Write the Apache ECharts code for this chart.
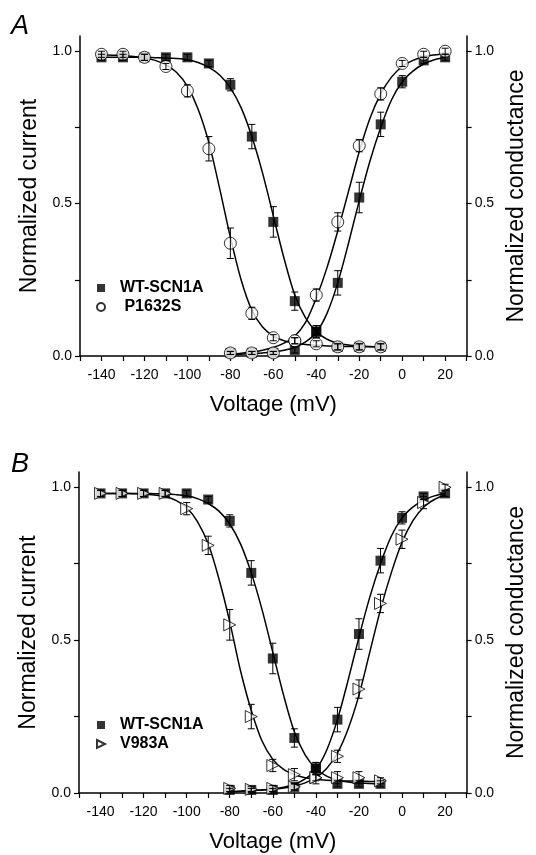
<!DOCTYPE html>
<html>
<head>
<meta charset="utf-8">
<script src="https://cdn.jsdelivr.net/npm/echarts@6/dist/echarts.min.js"></script>
<style>
  html, body { margin: 0; padding: 0; background: #fff; }
  #chart { width: 536px; height: 855px; }
</style>
</head>
<body>
<div id="chart"></div>
<script>
// voltages of the measured points
const voltInact = [-140, -130, -120, -110, -100, -90, -80, -70, -60, -50, -40, -30, -20, -10];
const voltAct = [-80, -70, -60, -50, -40, -30, -20, -10, 0, 10, 20];

// WT-SCN1A (same in both panels)
const wtInact = [0.98, 0.98, 0.98, 0.98, 0.98, 0.96, 0.89, 0.72, 0.44, 0.18, 0.08, 0.03, 0.03, 0.03];
const wtInactErr = [0.01, 0.01, 0.01, 0.01, 0.01, 0.01, 0.02, 0.04, 0.05, 0.03, 0.02, 0.01, 0.01, 0.01];
const wtAct = [0.01, 0.01, 0.01, 0.02, 0.08, 0.24, 0.52, 0.76, 0.9, 0.97, 0.98];
const wtActErr = [0.005, 0.005, 0.005, 0.01, 0.02, 0.04, 0.05, 0.04, 0.02, 0.01, 0.01];

// P1632S (panel A)
const p1632sInact = [0.99, 0.99, 0.98, 0.95, 0.87, 0.68, 0.37, 0.14, 0.06, 0.05, 0.04, 0.03, 0.03, 0.03];
const p1632sInactErr = [0.01, 0.01, 0.01, 0.01, 0.02, 0.04, 0.05, 0.02, 0.01, 0.01, 0.01, 0.01, 0.01, 0.01];
const p1632sAct = [0.01, 0.01, 0.01, 0.05, 0.2, 0.44, 0.69, 0.86, 0.96, 0.99, 1.0];
const p1632sActErr = [0.005, 0.005, 0.005, 0.01, 0.02, 0.03, 0.02, 0.02, 0.01, 0.01, 0.01];

// V983A (panel B)
const v983aInact = [0.98, 0.98, 0.98, 0.98, 0.93, 0.81, 0.55, 0.25, 0.09, 0.06, 0.05, 0.05, 0.05, 0.04];
const v983aInactErr = [0.01, 0.01, 0.01, 0.01, 0.02, 0.03, 0.05, 0.04, 0.02, 0.02, 0.02, 0.02, 0.02, 0.01];
const v983aAct = [0.015, 0.012, 0.015, 0.02, 0.05, 0.12, 0.34, 0.62, 0.83, 0.95, 1.0];
const v983aActErr = [0.01, 0.01, 0.01, 0.01, 0.01, 0.02, 0.03, 0.03, 0.03, 0.02, 0.01];

// fitted curves
const fitInactV = [-140, -135, -130, -125, -120, -115, -110, -105, -100, -95, -90, -85, -80, -75, -70, -65, -60, -55, -50, -45, -40, -35, -30, -25, -20, -15, -10];
const wtInactFit = [0.98, 0.98, 0.98, 0.98, 0.98, 0.979, 0.978, 0.976, 0.972, 0.963, 0.947, 0.922, 0.88, 0.815, 0.72, 0.6, 0.46, 0.32, 0.2, 0.125, 0.08, 0.055, 0.042, 0.036, 0.033, 0.031, 0.03];
const p1632sInactFit = [0.988, 0.987, 0.986, 0.983, 0.978, 0.97, 0.955, 0.93, 0.885, 0.81, 0.7, 0.55, 0.39, 0.25, 0.15, 0.095, 0.065, 0.05, 0.042, 0.038, 0.035, 0.033, 0.032, 0.031, 0.031, 0.03, 0.03];
const v983aInactFit = [0.98, 0.98, 0.98, 0.979, 0.978, 0.975, 0.97, 0.957, 0.933, 0.888, 0.815, 0.7, 0.56, 0.4, 0.27, 0.17, 0.11, 0.077, 0.06, 0.05, 0.045, 0.042, 0.04, 0.039, 0.039, 0.038, 0.038];

const fitActV = [-80, -75, -70, -65, -60, -55, -50, -45, -40, -35, -30, -25, -20, -15, -10, -5, 0, 5, 10, 15, 20];
const wtActFit = [0.005, 0.006, 0.008, 0.01, 0.013, 0.019, 0.028, 0.046, 0.077, 0.14, 0.24, 0.37, 0.51, 0.64, 0.75, 0.84, 0.9, 0.935, 0.958, 0.972, 0.98];
const p1632sActFit = [0.006, 0.009, 0.013, 0.019, 0.028, 0.042, 0.065, 0.11, 0.19, 0.29, 0.41, 0.54, 0.67, 0.78, 0.86, 0.915, 0.95, 0.97, 0.982, 0.988, 0.992];
const v983aActFit = [0.005, 0.006, 0.008, 0.01, 0.012, 0.016, 0.022, 0.033, 0.05, 0.08, 0.13, 0.21, 0.32, 0.46, 0.6, 0.72, 0.82, 0.89, 0.935, 0.96, 0.975];

// axis ticks and labels
const xTicks = [-150, -140, -130, -120, -110, -100, -90, -80, -70, -60, -50, -40, -30, -20, -10, 0, 10, 20, 30];
const xLabels = [-140, -120, -100, -80, -60, -40, -20, 0, 20];
const yTicks = [0, 0.25, 0.5, 0.75, 1.0];
const yLabels = [0, 0.5, 1.0];

const FONT = "Liberation Sans, Arial, sans-serif";
const SQUARE_ICON = "path://M0,0L10,0L10,10L0,10Z";
const TRIANGLE_ICON = "path://M0,0L10,5L0,10Z";

const pairs = (xs, ys) => xs.map((x, i) => [x, ys[i]]);
const triples = (xs, ys, es) => xs.map((x, i) => [x, ys[i], es[i]]);

function errRender(params, api) {
  const x = api.value(0), y = api.value(1), e = api.value(2);
  const top = api.coord([x, y + e]);
  const bot = api.coord([x, y - e]);
  const w = 3.5;
  const style = { stroke: "#000", lineWidth: 1 };
  return {
    type: "group",
    children: [
      { type: "line", shape: { x1: top[0], y1: top[1], x2: bot[0], y2: bot[1] }, style },
      { type: "line", shape: { x1: top[0] - w, y1: top[1], x2: top[0] + w, y2: top[1] }, style },
      { type: "line", shape: { x1: bot[0] - w, y1: bot[1], x2: bot[0] + w, y2: bot[1] }, style },
    ],
  };
}

const xAxisOf = (gridIndex) => ({
  type: "value",
  gridIndex,
  min: -150,
  max: 30,
  name: "Voltage (mV)",
  nameLocation: "middle",
  nameGap: 38,
  nameTextStyle: { fontSize: 22, fontFamily: FONT, color: "#000" },
  axisLine: { onZero: false, lineStyle: { color: "#000", width: 1.5 } },
  axisTick: { customValues: xTicks, length: 5, lineStyle: { color: "#000", width: 1.2 } },
  axisLabel: { customValues: xLabels, fontSize: 14, fontFamily: FONT, color: "#000", margin: 12 },
  splitLine: { show: false },
});

const yAxisOf = (gridIndex, side, name, gap) => ({
  type: "value",
  gridIndex,
  position: side,
  min: 0,
  max: 1.05,
  name,
  nameLocation: "middle",
  nameRotate: 90,
  nameGap: gap,
  nameTextStyle: { fontSize: 23, fontFamily: FONT, color: "#000" },
  axisLine: { show: true, onZero: false, lineStyle: { color: "#000", width: 1.5 } },
  axisTick: { show: true, customValues: yTicks, length: 5, lineStyle: { color: "#000", width: 1.2 } },
  axisLabel: {
    customValues: yLabels,
    fontSize: 14,
    fontFamily: FONT,
    color: "#000",
    margin: 8,
    formatter: (v) => v.toFixed(1),
  },
  splitLine: { show: false },
});

const fitLine = (xi, yi, xs, ys) => ({
  type: "line",
  xAxisIndex: xi,
  yAxisIndex: yi,
  data: pairs(xs, ys),
  smooth: 0.3,
  symbol: "none",
  lineStyle: { color: "#000", width: 1.5 },
  silent: true,
  z: 2,
});

const squares = (xi, yi, xs, ys) => ({
  type: "scatter",
  name: "WT-SCN1A",
  xAxisIndex: xi,
  yAxisIndex: yi,
  data: pairs(xs, ys),
  symbol: "rect",
  symbolSize: 10,
  itemStyle: { color: "#000" },
  z: 3,
});

const hollow = (name, symbol, rotate, size, xi, yi, xs, ys) => ({
  type: "scatter",
  name,
  xAxisIndex: xi,
  yAxisIndex: yi,
  data: pairs(xs, ys),
  symbol,
  symbolRotate: rotate,
  symbolSize: size,
  itemStyle: { color: "#fff", borderColor: "#000", borderWidth: 1 },
  z: 4,
});

const errBars = (xi, yi, xs, ys, es) => ({
  type: "custom",
  xAxisIndex: xi,
  yAxisIndex: yi,
  data: triples(xs, ys, es),
  encode: { x: 0, y: 1 },
  renderItem: errRender,
  silent: true,
  clip: false,
  z: 5,
});

const legendOf = (items, top) => ({
  data: items,
  orient: "vertical",
  left: 91,
  top,
  itemWidth: 28,
  itemHeight: 8,
  itemGap: 3,
  symbolKeepAspect: true,
  formatter: (name) => (name === "P1632S" ? " " + name : name),
  textStyle: { fontSize: 16, lineHeight: 14, fontWeight: "bold", fontFamily: FONT, color: "#000" },
});

const chart = echarts.init(document.getElementById("chart"));

const option = {
  animation: false,
  backgroundColor: "#fff",
  title: [
    { text: "A", left: 6, top: 8, textStyle: { fontSize: 27, fontStyle: "italic", fontWeight: "normal", fontFamily: FONT, color: "#000" } },
    { text: "B", left: 6, top: 446, textStyle: { fontSize: 27, fontStyle: "italic", fontWeight: "normal", fontFamily: FONT, color: "#000" } },
  ],
  legend: [
    legendOf([{ name: "WT-SCN1A", icon: SQUARE_ICON }, { name: "P1632S", icon: "circle" }], 275),
    legendOf([{ name: "WT-SCN1A", icon: SQUARE_ICON }, { name: "V983A", icon: TRIANGLE_ICON }], 712),
  ],
  grid: [
    { left: 80, top: 36, width: 388, height: 320 },
    { left: 79, top: 472, width: 388, height: 321 },
  ],
  xAxis: [xAxisOf(0), xAxisOf(1)],
  yAxis: [
    yAxisOf(0, "left", "Normalized current", 38),
    yAxisOf(0, "right", "Normalized conductance", 33),
    yAxisOf(1, "left", "Normalized current", 38),
    yAxisOf(1, "right", "Normalized conductance", 33),
  ],
  series: [
    // panel A
    fitLine(0, 0, fitInactV, wtInactFit),
    fitLine(0, 0, fitInactV, p1632sInactFit),
    fitLine(0, 1, fitActV, wtActFit),
    fitLine(0, 1, fitActV, p1632sActFit),
    squares(0, 0, voltInact, wtInact),
    squares(0, 1, voltAct, wtAct),
    hollow("P1632S", "circle", 0, 12, 0, 0, voltInact, p1632sInact),
    hollow("P1632S", "circle", 0, 12, 0, 1, voltAct, p1632sAct),
    errBars(0, 0, voltInact, wtInact, wtInactErr),
    errBars(0, 1, voltAct, wtAct, wtActErr),
    errBars(0, 0, voltInact, p1632sInact, p1632sInactErr),
    errBars(0, 1, voltAct, p1632sAct, p1632sActErr),
    // panel B
    fitLine(1, 2, fitInactV, wtInactFit),
    fitLine(1, 2, fitInactV, v983aInactFit),
    fitLine(1, 3, fitActV, wtActFit),
    fitLine(1, 3, fitActV, v983aActFit),
    squares(1, 2, voltInact, wtInact),
    squares(1, 3, voltAct, wtAct),
    hollow("V983A", "triangle", -90, 12, 1, 2, voltInact, v983aInact),
    hollow("V983A", "triangle", -90, 12, 1, 3, voltAct, v983aAct),
    errBars(1, 2, voltInact, wtInact, wtInactErr),
    errBars(1, 3, voltAct, wtAct, wtActErr),
    errBars(1, 2, voltInact, v983aInact, v983aInactErr),
    errBars(1, 3, voltAct, v983aAct, v983aActErr),
  ],
};

chart.setOption(option);
</script>
</body>
</html>
